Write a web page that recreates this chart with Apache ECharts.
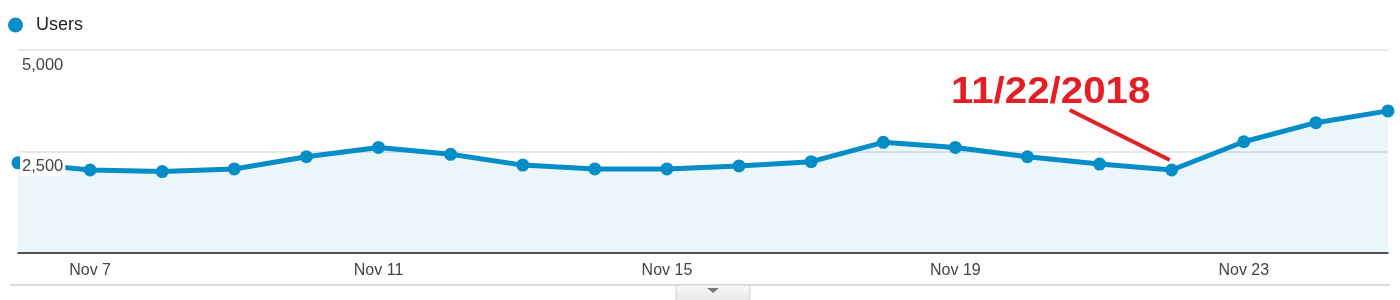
<!DOCTYPE html>
<html>
<head>
<meta charset="utf-8">
<script src="https://cdn.jsdelivr.net/npm/echarts@6/dist/echarts.min.js"></script>
<style>
html,body{margin:0;padding:0;background:#fff;}
#main{width:1400px;height:300px;}
</style>
</head>
<body>
<div id="main"></div>
<script>
const categories = ['Nov 6','Nov 7','Nov 8','Nov 9','Nov 10','Nov 11','Nov 12','Nov 13','Nov 14','Nov 15','Nov 16','Nov 17','Nov 18','Nov 19','Nov 20','Nov 21','Nov 22','Nov 23','Nov 24','Nov 25'];
const users = [2220, 2045, 2005, 2070, 2370, 2600, 2430, 2165, 2070, 2070, 2145, 2250, 2725, 2600, 2370, 2190, 2045, 2740, 3210, 3500];
const seriesName = 'Users';
const yTicks = [0, 2500, 5000];
const annotationLabel = '11/22/2018';
const annotationCategory = 'Nov 22';

const chart = echarts.init(document.getElementById('main'), null, {renderer: 'canvas'});
const blue = '#058dc7';
const yMax = yTicks[yTicks.length - 1];
const yStep = yTicks[1] - yTicks[0];

const yLabelFmt = v => v === 0 ? '' : '{a|' + v.toLocaleString('en-US') + '}';

chart.setOption({
  animation: false,
  legend: {
    data: [seriesName],
    left: 3, top: 11,
    icon: 'circle',
    itemWidth: 15, itemHeight: 15,
    textStyle: {fontFamily: 'Arial, "Liberation Sans"', fontSize: 18, color: '#222', padding: [0,0,0,8]}
  },
  grid: {left: 18, right: 12, top: 50, bottom: 47, containLabel: false},
  xAxis: {
    type: 'category',
    data: categories,
    boundaryGap: false,
    axisLine: {lineStyle: {color: '#222', width: 1.5}},
    axisTick: {show: false},
    axisLabel: {
      interval: (i) => i % 4 === 1,
      margin: 10,
      fontFamily: 'Arial, "Liberation Sans"', fontSize: 16, color: '#444'
    },
    splitLine: {show: false}
  },
  yAxis: [{
    type: 'value', min: yTicks[0], max: yMax, interval: yStep,
    axisLine: {show: false}, axisTick: {show: false},
    axisLabel: {show: false},
    splitLine: {show: true, lineStyle: {color: '#e8e8e8', width: 2}}
  }, {
    type: 'value', min: yTicks[0], max: yMax, interval: yStep,
    position: 'left', z: 10,
    axisLine: {show: false}, axisTick: {show: false},
    splitLine: {show: false},
    axisLabel: {
      inside: true, margin: 2,
      verticalAlign: 'top', align: 'left',
      padding: [6, 0, 0, 0],
      formatter: yLabelFmt,
      rich: {a: {fontFamily: 'Arial, "Liberation Sans"', fontSize: 16.5, color: '#444', backgroundColor: '#fff', padding: [1, 2, 1, 2], lineHeight: 18}}
    }
  }],
  series: [{
    name: seriesName,
    type: 'line',
    data: users,
    yAxisIndex: 0,
    symbol: 'circle', symbolSize: 13,
    lineStyle: {color: blue, width: 5},
    itemStyle: {color: blue},
    areaStyle: {color: 'rgba(5,141,199,0.11)'},
    z: 3
  }]
});

function drawExtras() {
  const idx = categories.indexOf(annotationCategory);
  const p = chart.convertToPixel({seriesIndex: 0}, [idx, users[idx]]);
  chart.setOption({
    graphic: [
      {type: 'line', z: 20, shape: {x1: p[0] - 102, y1: p[1] - 60, x2: p[0] - 2, y2: p[1] - 10}, style: {stroke: '#e41e26', lineWidth: 4}},
      {type: 'text', z: 20, x: p[0] - 121, y: p[1] - 77, scaleX: 1.15, scaleY: 1.03,
        style: {text: annotationLabel, font: 'bold 35px Arial, "Liberation Sans"', fill: '#e41e26', align: 'center', verticalAlign: 'middle'}},
      {type: 'line', z: 1, shape: {x1: 10, y1: 285, x2: 1390, y2: 285}, style: {stroke: '#dcdcdc', lineWidth: 2}},
      {type: 'rect', z: 2, shape: {x: 676, y: 285, width: 74, height: 20, r: 2},
        style: {fill: new echarts.graphic.LinearGradient(0,0,0,1,[{offset:0,color:'#fafafa'},{offset:1,color:'#e2e2e2'}]), stroke: '#cfcfcf', lineWidth: 1}},
      {type: 'polygon', z: 3, shape: {points: [[707, 288], [719, 288], [713, 293]]}, style: {fill: '#7a7a7a'}}
    ]
  });
}
drawExtras();
</script>
</body>
</html>
